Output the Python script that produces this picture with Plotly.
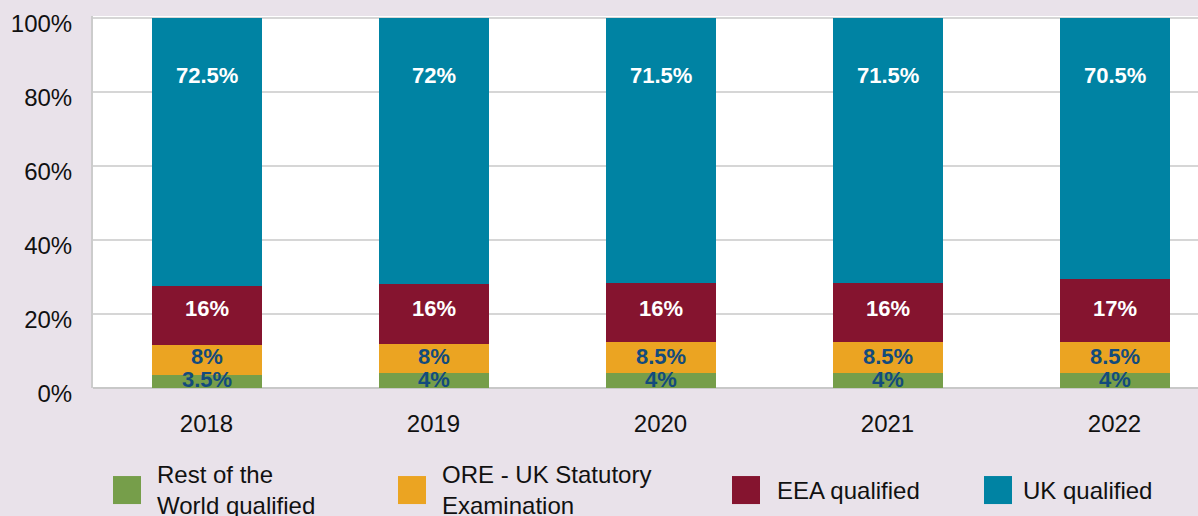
import plotly.graph_objects as go

years = ["2018", "2019", "2020", "2021", "2022"]
series_names = ["Rest of the World qualified", "ORE - UK Statutory Examination", "EEA qualified", "UK qualified"]
legend_labels = ["Rest of the<br>World qualified", "ORE - UK Statutory<br>Examination", "EEA qualified", "UK qualified"]
rest_world = [3.5, 4, 4, 4, 4]
ore_exam = [8, 8, 8.5, 8.5, 8.5]
eea = [16, 16, 16, 16, 17]
uk = [72.5, 72, 71.5, 71.5, 70.5]
y_ticks = [0, 20, 40, 60, 80, 100]
y_tick_labels = ["0%", "20%", "40%", "60%", "80%", "100%"]

values = [rest_world, ore_exam, eea, uk]
colors = ["#769e4a", "#eba422", "#85142f", "#0083a3"]
label_colors = ["#134b7c", "#134b7c", "#ffffff", "#ffffff"]
label_levels = [2.4, 8.6, 21.6, 84.3]  # label heights (style)

W, H = 1198, 516
L, B = 93, 128
y_top = 100.5
px_per_unit = 3.7
plot_h = y_top * px_per_unit
T = H - B - plot_h
cat_px = 227
plot_w = W - L

fig = go.Figure()
for name, vals, c in zip(series_names, values, colors):
    fig.add_trace(go.Bar(x=years, y=vals, name=name, marker=dict(color=c, line=dict(width=0)),
                         showlegend=False, hoverinfo="x+y+name"))

def fmt(v):
    return (f"{v:g}") + "%"

annotations = []
for vals, lc, lvl in zip(values, label_colors, label_levels):
    for i, v in enumerate(vals):
        annotations.append(dict(x=i, y=lvl, xref="x", yref="y", text="<b>" + fmt(v) + "</b>",
                                showarrow=False, font=dict(family="Liberation Sans, Arial", size=22, color=lc),
                                xanchor="center", yanchor="middle"))

# manual legend
sq_left = [113, 398, 732, 984]
txt_left = [155, 440, 775, 1021]
leg_cy = 490
sq = 28
shapes = []
for c, sx, tx, lab in zip(colors, sq_left, txt_left, legend_labels):
    shapes.append(dict(type="rect", xref="paper", yref="paper",
                       x0=(sx - L) / plot_w, x1=(sx + sq - L) / plot_w,
                       y0=(H - B - (leg_cy + sq / 2)) / plot_h, y1=(H - B - (leg_cy - sq / 2)) / plot_h,
                       fillcolor=c, line=dict(width=0)))
    annotations.append(dict(x=(tx - L) / plot_w, y=(H - B - leg_cy) / plot_h, xref="paper", yref="paper",
                            text=lab, showarrow=False, xanchor="left", yanchor="middle", align="left",
                            font=dict(family="Liberation Sans, Arial", size=24, color="#111111")))

fig.update_layout(
    width=W, height=H,
    margin=dict(l=L, r=0, t=T, b=B, pad=0),
    barmode="stack",
    bargap=1 - 110 / cat_px,
    paper_bgcolor="#e9e2ea",
    plot_bgcolor="#ffffff",
    font=dict(family="Liberation Sans, Arial", size=24, color="#111111"),
    annotations=annotations,
    shapes=shapes,
    xaxis=dict(type="category", range=[-0.5, -0.5 + plot_w / cat_px], showgrid=False, showline=False, ticks="",
               tickfont=dict(size=24, color="#111111"), ticklabelstandoff=19, fixedrange=True),
    yaxis=dict(range=[0, y_top], tickvals=y_ticks, ticktext=y_tick_labels, showgrid=True,
               gridcolor="#d6d6d6", gridwidth=1.5, zeroline=True, zerolinecolor="#c8c8c8", zerolinewidth=2,
               showline=True, linecolor="#cccccc", linewidth=2, ticks="",
               tickfont=dict(size=24, color="#111111"), ticklabelstandoff=14, ticklabelshift=6,
               fixedrange=True),
)

fig.write_html("out.html", config={"displayModeBar": False},
               post_script="document.body.style.margin='0';document.body.style.background='#e9e2ea';")
